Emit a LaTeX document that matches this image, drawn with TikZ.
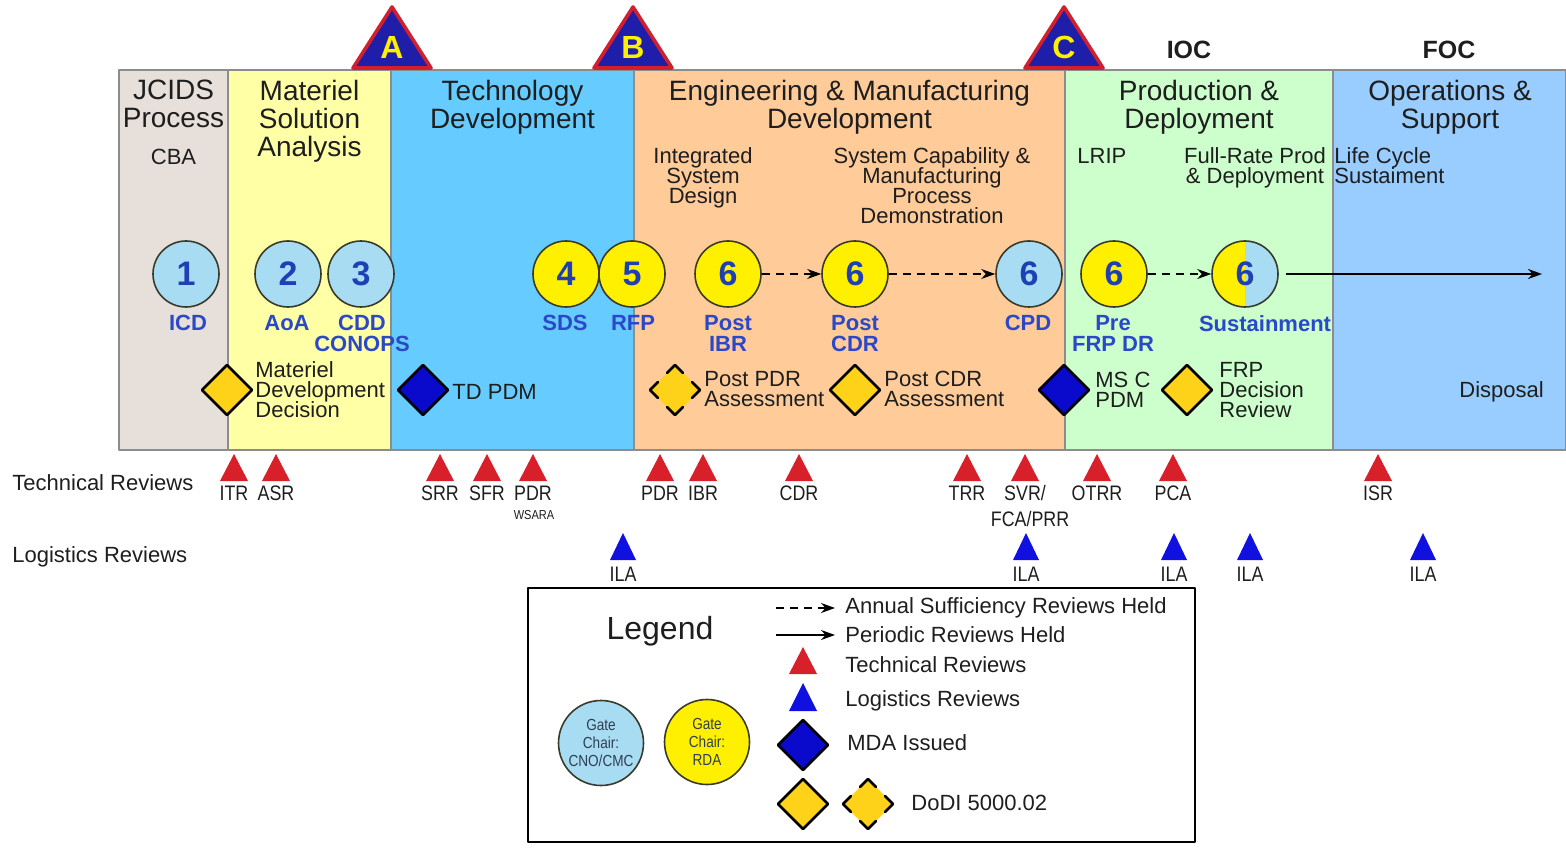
\documentclass[tikz,border=0pt]{standalone}
\usepackage{fontspec}
\setmainfont{Liberation Sans}
\newfontfamily\narrowfont[FakeStretch=0.85]{Liberation Sans}
\usetikzlibrary{shapes.geometric,arrows.meta,calc}
\definecolor{jcids}{HTML}{E6DFDA}
\definecolor{msa}{HTML}{FFFFA6}
\definecolor{td}{HTML}{66CCFF}
\definecolor{emd}{HTML}{FFCC99}
\definecolor{pd}{HTML}{CCFFCC}
\definecolor{os}{HTML}{99CCFF}
\definecolor{cblue}{HTML}{A8DCF2}
\definecolor{cyel}{HTML}{FFF000}
\definecolor{dyel}{HTML}{FFD21A}
\definecolor{dblue}{HTML}{0A0ACC}
\definecolor{lbl}{HTML}{2A48C8}
\definecolor{numblue}{HTML}{1F3FB5}
\definecolor{msred}{HTML}{D02030}
\definecolor{msblue}{HTML}{1E1EA8}
\definecolor{revred}{HTML}{D8202A}
\definecolor{revblue}{HTML}{1010E0}
\definecolor{txt}{HTML}{1E1E1E}
\definecolor{bordc}{HTML}{8C8C8C}
\definecolor{gateline}{HTML}{3A3A2A}
\definecolor{circtxt}{HTML}{2F3F55}
\newcommand\fsz[2]{\fontsize{#1}{#2}\selectfont\lineskiplimit=-20pt\lineskip=0pt}
\newcommand\dcorners[1]{%
  \foreach \v/\p/\q in {north/east/west, east/north/south, south/east/west, west/north/south}{%
    \draw[line width=1.3pt, line cap=round] ($(#1.\v)!0.32!(#1.\p)$) -- (#1.\v) -- ($(#1.\v)!0.32!(#1.\q)$);
  }}
\begin{document}
\begin{tikzpicture}[x=0.5pt,y=-0.5pt, line join=round,
  phase/.style={align=center, anchor=north, inner sep=0, text=txt, font=\fsz{14}{14}},
  subtxt/.style={align=center, anchor=north, inner sep=0, text=txt, font=\fsz{11}{10}},
  gate/.style={circle, draw=gateline, line width=0.8pt, minimum size=33pt, inner sep=0, text=numblue, font=\bfseries\fsz{17}{17}},
  gblue/.style={gate, fill=cblue},
  gyel/.style={gate, fill=cyel},
  clabel/.style={align=center, anchor=north, inner sep=0, text=lbl, font=\bfseries\fsz{11}{10.5}},
  dmd/.style={diamond, aspect=1, minimum width=25pt, minimum height=25pt, inner sep=0, outer sep=0},
  ydmd/.style={dmd, fill=dyel, draw=black, line width=1.3pt},
  bdmd/.style={dmd, fill=dblue, draw=black, line width=1.3pt},
  ddmd/.style={dmd, fill=dyel},
  dlabel/.style={align=left, anchor=west, inner sep=0, text=txt, font=\fsz{11}{10}},
  revlab/.style={anchor=base, inner sep=0, text=txt, font=\narrowfont\fsz{10.5}{10.5}},
  rowlab/.style={anchor=west, inner sep=0, text=txt, font=\fsz{11}{11}},
  dasharr/.style={-{Stealth[length=7pt,width=5pt]}, line width=0.8pt, dash pattern=on 4pt off 3pt},
  solarr/.style={-{Stealth[length=7pt,width=5pt]}, line width=0.8pt},
  legtxt/.style={anchor=west, inner sep=0, text=txt, font=\fsz{11}{11}},
  mslet/.style={inner sep=0, text=cyel, font=\bfseries\fsz{16}{16}},
  mile/.style={inner sep=0, text=txt, font=\bfseries\fsz{12.5}{12.5}},
]
\useasboundingbox (0,0) rectangle (1566,849);
% phase band
\foreach \a/\b/\c in {119/228/jcids, 228/391/msa, 391/634/td, 634/1065/emd, 1065/1333/pd, 1333/1566/os}
  \filldraw[fill=\c, draw=bordc, line width=0.8pt] (\a,70) rectangle (\b,450);
% milestones
\foreach \n/\x in {A/392, B/633, C/1064}{
  \filldraw[fill=msblue, draw=msred, line width=1.8pt] (\x-39,68) -- (\x,7) -- (\x+39,68) -- cycle;
  \node[mslet] (ms\n) at (\x,47) {\n};
}
\node[mile] (ioc) at (1189,50) {IOC};
\node[mile] (foc) at (1449,50) {FOC};
% phase titles
\node[phase] (p1) at (173.5,80) {JCIDS\\Process};
\node[phase] (p2) at (309.5,80) {Materiel\\Solution\\Analysis};
\node[phase] (p3) at (512.5,80) {Technology\\Development};
\node[phase] (p4) at (849.5,80) {Engineering \& Manufacturing\\Development};
\node[phase] (p5) at (1199,80) {Production \&\\Deployment};
\node[phase] (p6) at (1450,80) {Operations \&\\Support};
% sub-phase texts
\node[subtxt] (s0) at (173.5,149) {CBA};
\node[subtxt] (s1) at (703,147) {Integrated\\System\\Design};
\node[subtxt] (s2) at (932,147) {System Capability \&\\Manufacturing\\Process\\Demonstration};
\node[subtxt, anchor=north west] (s3) at (1077,148) {LRIP};
\node[subtxt] (s4) at (1255,147) {Full-Rate Prod\\\& Deployment};
\node[subtxt, anchor=north west, align=left] (s5) at (1334,147) {Life Cycle\\Sustaiment};
% gate circles
\node[gblue] (g1) at (186,274) {1};
\node[gblue] (g2) at (288,274) {2};
\node[gblue] (g3) at (361,274) {3};
\node[gyel] (g4) at (566,274) {4};
\node[gyel] (g5) at (632,274) {5};
\node[gyel] (g6a) at (728,274) {6};
\node[gyel] (g6b) at (855,274) {6};
\node[gblue] (g6c) at (1029,274) {6};
\node[gyel] (g6d) at (1114,274) {6};
\node[gblue, path picture={\fill[cyel] (path picture bounding box.south west) rectangle (path picture bounding box.north);}] (g6e) at (1245,274) {6};
\draw[dasharr] (g6a) -- (g6b);
\draw[dasharr] (g6b) -- (g6c);
\draw[dasharr] (g6d) -- (g6e);
\coordinate (lcend) at (1542,274);
\draw[solarr, shorten <=3.5pt] (g6e) -- (lcend);
% circle labels
\node[clabel] (l1) at (188,315) {ICD};
\node[clabel] (l2) at (287,315) {AoA};
\node[clabel] (l3) at (362,315) {CDD\\CONOPS};
\node[clabel] (l4) at (565,315) {SDS};
\node[clabel] (l5) at (633,315) {RFP};
\node[clabel] (l6a) at (728,315) {Post\\IBR};
\node[clabel] (l6b) at (855,315) {Post\\CDR};
\node[clabel] (l6c) at (1028,315) {CPD};
\node[clabel] (l6d) at (1113,315) {Pre\\FRP DR};
\node[clabel] (l6e) at (1265,315) {Sustainment};
% decision diamonds
\node[ydmd] (d1) at (227,390) {};
\node[dlabel] (t1) at (255,390) {Materiel\\Development\\Decision};
\node[bdmd] (d2) at (423,390) {};
\node[dlabel] (t2) at (452,392) {TD PDM};
\node[ddmd] (d3) at (675,390) {};
\dcorners{d3}
\node[dlabel] (t3) at (704,389) {Post PDR\\Assessment};
\node[ydmd] (d4) at (855,390) {};
\node[dlabel] (t4) at (884,389) {Post CDR\\Assessment};
\node[bdmd] (d5) at (1064,390) {};
\node[dlabel] (t5) at (1095,390) {MS C\\PDM};
\node[ydmd] (d6) at (1187,390) {};
\node[dlabel] (t6) at (1219,390) {FRP\\Decision\\Review};
\node[dlabel] (t7) at (1459,392) {Disposal};
% review rows
\node[rowlab] (rtech) at (12,483) {Technical Reviews};
\node[rowlab] (rlog) at (12,557) {Logistics Reviews};
\foreach \x/\t [count=\i] in {234/ITR,276/ASR,440/SRR,487/SFR,533/PDR,660/PDR,703/IBR,799/CDR,967/TRR,1025/SVR\slash,1097/OTRR,1173/PCA,1378/ISR}{
  \fill[revred] (\x-14,481) -- (\x,454) -- (\x+14,481) -- cycle;
  \node[revlab] (tr\i) at (\x,500) {\t};
}
\node[revlab, font=\narrowfont\fsz{6.5}{6.5}] (wsara) at (534,519) {WSARA};
\node[revlab] (fca) at (1030,526) {FCA/PRR};
\foreach \x [count=\i] in {623,1026,1174,1250,1423}{
  \fill[revblue] (\x-13,560) -- (\x,533) -- (\x+13,560) -- cycle;
  \node[revlab] (ila\i) at (\x,581) {ILA};
}
% legend
\node[draw=black, line width=1.2pt, minimum width=333.5pt, minimum height=127pt, inner sep=0] (legbox) at (861.5,715) {};
\node[inner sep=0, text=txt, font=\fsz{16}{16}] (legt) at (660,631) {Legend};
\coordinate (la1) at (776,608); \coordinate (la2) at (835,608);
\draw[dasharr] (la1) -- (la2);
\coordinate (lb1) at (776,635); \coordinate (lb2) at (835,635);
\draw[solarr] (lb1) -- (lb2);
\node[legtxt] (lt1) at (845,608) {Annual Sufficiency Reviews Held};
\node[legtxt] (lt2) at (845,635) {Periodic Reviews Held};
\fill[revred] (789,674) -- (803,647) -- (817,674) -- cycle;
\node[legtxt] (lt3) at (845,665) {Technical Reviews};
\fill[revblue] (789,711) -- (803,683) -- (817,711) -- cycle;
\node[legtxt] (lt4) at (845,701) {Logistics Reviews};
\node[bdmd] (ld1) at (803,745) {};
\node[legtxt] (lt5) at (847,743) {MDA Issued};
\node[ydmd] (ld2) at (803,804) {};
\node[ddmd] (ld3) at (868,804) {};
\dcorners{ld3}
\node[legtxt] (lt6) at (911,803) {DoDI 5000.02};
\node[gblue, minimum size=42.5pt, align=center, text=circtxt, font=\narrowfont\fsz{8}{9}] (lc1) at (601,743) {Gate\\Chair:\\CNO/CMC};
\node[gyel, minimum size=42.5pt, align=center, text=circtxt, font=\narrowfont\fsz{8}{9}] (lc2) at (707,742) {Gate\\Chair:\\RDA};
\end{tikzpicture}
\end{document}
